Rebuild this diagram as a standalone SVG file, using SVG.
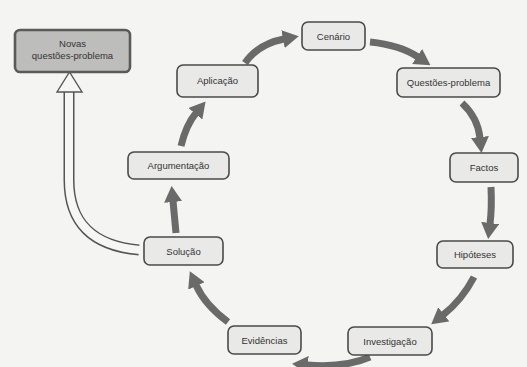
<svg xmlns="http://www.w3.org/2000/svg" width="527" height="367" viewBox="0 0 527 367">
<defs>
<marker id="ah" markerUnits="userSpaceOnUse" markerWidth="16" markerHeight="18" viewBox="0 0 16 18" refX="1" refY="9" orient="auto">
<path d="M0,0 L16,9 L0,18 z" fill="#6a6a6a"/>
</marker>
</defs>
<style>
.box{fill:#e9e9e7;stroke:#4a4a4a;stroke-width:1.6}
.dark{fill:#bdbdbb;stroke:#5a5a5a;stroke-width:2.6}
.t{font-family:"Liberation Sans",Arial,sans-serif;font-size:9.5px;fill:#333;text-anchor:middle}
.arr{fill:none;stroke:#6a6a6a;stroke-width:7;marker-end:url(#ah)}
</style>
<rect width="527" height="367" fill="#f4f4f2"/>
<g id="connectors">
<path class="arr" d="M245,63 Q258,44 284,39"/>
<path class="arr" d="M370,42 Q400,45 418,57"/>
<path class="arr" d="M462,103 Q478,118 480,138"/>
<path class="arr" d="M491,187 Q492,208 490,224"/>
<path class="arr" d="M474,277 Q462,300 443,315"/>
<path class="arr" d="M370,357 Q345,368 307,365"/>
<path class="arr" d="M228,322 Q205,305 196,285"/>
<path class="arr" d="M176,233 L173,201"/>
<path class="arr" d="M181,146 Q186,125 196,113"/>
<g id="hollow">
<path d="M139,250 Q69,244 69,180 L69,91" fill="none" stroke="#555" stroke-width="11"/>
<path d="M140,250 Q69,244 69,180 L69,90" fill="none" stroke="#f6f6f4" stroke-width="8"/>
<path d="M57,92 L82,92 L69.5,72 z" fill="#f6f6f4" stroke="#555" stroke-width="1.4" stroke-linejoin="miter"/>
</g>
</g>
<g id="novas"><rect class="dark" x="15" y="30" width="115" height="42" rx="5"/><text class="t" x="72.5" y="47">Novas</text><text class="t" x="72.5" y="59">questões-problema</text></g>
<g id="cenario"><rect class="box" x="302" y="22" width="63" height="28" rx="6"/><text class="t" x="333.5" y="39.5">Cenário</text></g>
<g id="questoes"><rect class="box" x="397" y="68" width="103" height="29" rx="6"/><text class="t" x="448.5" y="86">Questões-problema</text></g>
<g id="factos"><rect class="box" x="450" y="153" width="68" height="29" rx="6"/><text class="t" x="484" y="171">Factos</text></g>
<g id="hipoteses"><rect class="box" x="437" y="241" width="76" height="27" rx="6"/><text class="t" x="475" y="258">Hipóteses</text></g>
<g id="investigacao"><rect class="box" x="348" y="327" width="84" height="28" rx="6"/><text class="t" x="390" y="344.5">Investigação</text></g>
<g id="evidencias"><rect class="box" x="228" y="326" width="73" height="28" rx="6"/><text class="t" x="264.5" y="343.5">Evidências</text></g>
<g id="solucao"><rect class="box" x="144" y="237" width="79" height="28" rx="6"/><text class="t" x="183.5" y="254.5">Solução</text></g>
<g id="argumentacao"><rect class="box" x="128" y="152" width="101" height="27" rx="6"/><text class="t" x="178.5" y="169">Argumentação</text></g>
<g id="aplicacao"><rect class="box" x="177" y="65" width="81" height="32" rx="6"/><text class="t" x="217.5" y="84">Aplicação</text></g>
</svg>
